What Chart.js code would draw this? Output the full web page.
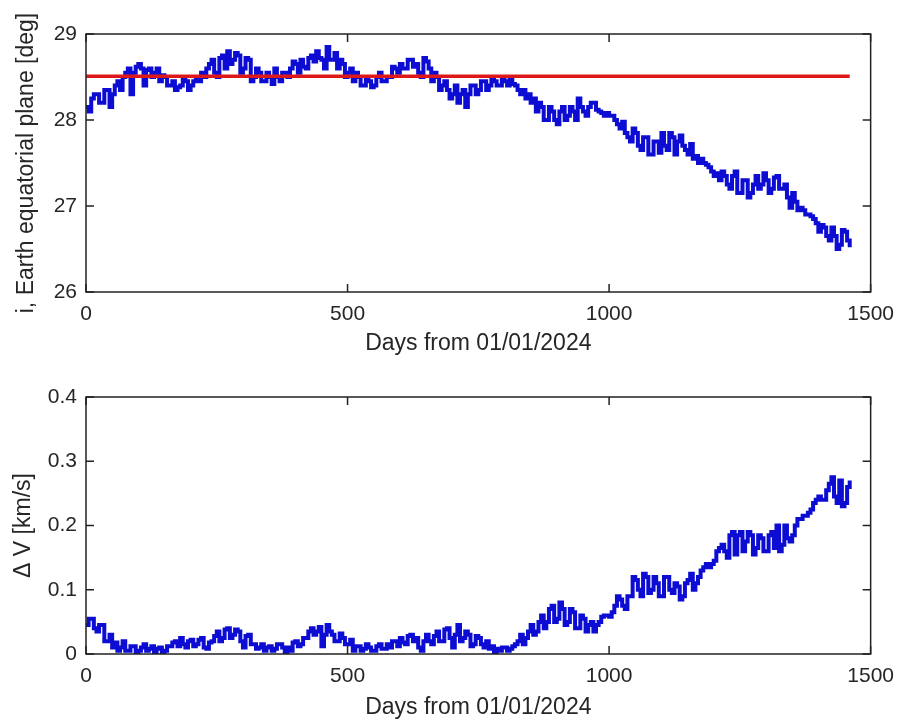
<!DOCTYPE html>
<html><head><meta charset="utf-8">
<script src="https://cdn.jsdelivr.net/npm/chart.js@4.4.1/dist/chart.umd.min.js"></script>
<style>
html,body{margin:0;padding:0;background:#fff;}
#wrap{position:relative;width:904px;height:719px;overflow:hidden;background:#fff;}
.c{position:absolute;left:0;width:904px;}
</style></head><body>
<div id="wrap">
<div class="c" style="top:0;height:360px"><canvas id="c1"></canvas></div>
<div class="c" style="top:360px;height:359px"><canvas id="c2"></canvas></div>
</div>
<script>
// ---- data ----
const DAY_STEP = 5; // samples every 5 days from day 0
const inclination = [
28.15,28.1,28.25,28.3,28.3,28.2,28.2,28.35,28.35,28.15,
28.3,28.4,28.45,28.35,28.5,28.55,28.6,28.3,28.55,28.62,
28.65,28.6,28.4,28.58,28.6,28.5,28.55,28.6,28.45,28.52,
28.5,28.4,28.4,28.45,28.35,28.38,28.4,28.5,28.45,28.35,
28.4,28.45,28.5,28.45,28.55,28.5,28.6,28.65,28.7,28.55,
28.5,28.72,28.75,28.6,28.8,28.65,28.7,28.78,28.75,28.55,
28.6,28.72,28.7,28.45,28.5,28.6,28.55,28.45,28.45,28.55,
28.5,28.42,28.6,28.5,28.45,28.55,28.55,28.5,28.6,28.68,
28.65,28.55,28.7,28.62,28.6,28.72,28.75,28.68,28.8,28.72,
28.7,28.6,28.85,28.7,28.7,28.78,28.6,28.7,28.65,28.5,
28.55,28.6,28.45,28.55,28.5,28.4,28.4,28.5,28.45,28.38,
28.4,28.5,28.55,28.45,28.45,28.5,28.5,28.62,28.6,28.55,
28.65,28.6,28.6,28.7,28.7,28.62,28.65,28.55,28.5,28.72,
28.68,28.6,28.45,28.55,28.5,28.35,28.4,28.45,28.35,28.25,
28.3,28.4,28.2,28.3,28.35,28.15,28.3,28.4,28.4,28.3,
28.35,28.45,28.45,28.35,28.4,28.5,28.45,28.4,28.4,28.48,
28.45,28.4,28.5,28.42,28.4,28.35,28.3,28.35,28.25,28.3,
28.2,28.25,28.1,28.2,28.15,28.0,28.0,28.15,28.1,28.0,
27.95,28.1,28.15,28.0,28.05,28.15,28.1,28.0,28.25,28.15,
28.1,28.05,28.15,28.2,28.2,28.12,28.1,28.08,28.05,28.08,
28.05,28.05,28.0,27.95,27.9,27.98,27.85,27.8,27.75,27.9,
27.85,27.7,27.65,27.8,27.8,27.6,27.6,27.75,27.75,27.62,
27.85,27.7,27.65,27.85,27.8,27.6,27.75,27.82,27.7,27.65,
27.6,27.72,27.55,27.58,27.5,27.55,27.5,27.48,27.45,27.4,
27.35,27.38,27.3,27.4,27.35,27.25,27.2,27.35,27.4,27.15,
27.15,27.3,27.3,27.1,27.15,27.25,27.35,27.2,27.25,27.38,
27.3,27.15,27.2,27.33,27.35,27.2,27.2,27.25,27.1,26.98,
27.15,27.05,26.95,26.98,26.95,26.9,26.9,26.88,26.85,26.8,
26.7,26.78,26.75,26.65,26.6,26.75,26.65,26.5,26.55,26.72,
26.7,26.6,26.52];
const deltaV = [
0.045,0.055,0.055,0.04,0.035,0.045,0.045,0.02,0.02,0.03,
0.01,0.018,0.005,0.01,0.02,0.005,0.005,0.012,0.012,0.003,
0.005,0.01,0.015,0.005,0.008,0.012,0.002,0.008,0.01,0.003,
0.005,0.012,0.012,0.018,0.02,0.012,0.025,0.015,0.01,0.02,
0.022,0.012,0.015,0.022,0.025,0.01,0.008,0.018,0.02,0.028,
0.035,0.02,0.025,0.038,0.04,0.025,0.03,0.038,0.035,0.02,
0.01,0.028,0.03,0.015,0.015,0.008,0.01,0.015,0.005,0.01,
0.012,0.005,0.008,0.015,0.015,0.01,0.002,0.01,0.005,0.018,
0.02,0.012,0.015,0.025,0.025,0.035,0.04,0.03,0.035,0.042,
0.012,0.03,0.045,0.035,0.03,0.02,0.02,0.032,0.025,0.015,
0.015,0.022,0.005,0.012,0.012,0.005,0.008,0.015,0.01,0.005,
0.005,0.012,0.015,0.008,0.008,0.015,0.01,0.02,0.02,0.012,
0.025,0.018,0.015,0.028,0.03,0.02,0.025,0.01,0.005,0.02,
0.03,0.02,0.015,0.028,0.035,0.02,0.02,0.038,0.04,0.025,
0.01,0.03,0.045,0.02,0.025,0.035,0.03,0.012,0.015,0.028,
0.025,0.015,0.01,0.02,0.008,0.012,0.002,0.008,0.005,0.01,
0.01,0.005,0.008,0.012,0.015,0.02,0.03,0.015,0.025,0.035,
0.045,0.03,0.035,0.05,0.06,0.04,0.05,0.07,0.075,0.05,
0.055,0.08,0.07,0.045,0.05,0.07,0.065,0.04,0.04,0.06,
0.055,0.035,0.045,0.05,0.035,0.045,0.05,0.058,0.06,0.06,
0.058,0.065,0.075,0.09,0.085,0.075,0.07,0.09,0.09,0.12,
0.115,0.1,0.09,0.125,0.12,0.095,0.1,0.12,0.11,0.09,
0.09,0.12,0.12,0.1,0.095,0.11,0.105,0.085,0.09,0.11,
0.115,0.125,0.1,0.11,0.12,0.13,0.135,0.14,0.135,0.14,
0.145,0.16,0.165,0.17,0.16,0.15,0.185,0.19,0.155,0.185,
0.19,0.16,0.175,0.19,0.185,0.155,0.165,0.185,0.18,0.16,
0.16,0.185,0.19,0.165,0.2,0.16,0.17,0.2,0.18,0.175,
0.185,0.2,0.21,0.21,0.215,0.215,0.22,0.225,0.235,0.24,
0.245,0.24,0.24,0.255,0.265,0.275,0.245,0.235,0.27,0.23,
0.235,0.26,0.27];
const refDays = [0, 1460];
const refIncl = [28.51, 28.51];
const xTicks = [0, 500, 1000, 1500];
const yTicksTop = [26, 27, 28, 29];
const yTicksBottom = [0, 0.1, 0.2, 0.3, 0.4];

const days = inclination.map((_, i) => i * DAY_STEP);
const toPts = (xs, ys) => xs.map((x, i) => ({x, y: ys[i]}));

const FONT = '"Liberation Sans", Arial, Helvetica, sans-serif';
const TXT = '#262626';
const BLUE = 'rgb(12,12,210)';
const RED = 'rgb(222,24,24)';

const boxTicks = {
  id: 'boxTicks',
  afterDraw(chart, args, opts) {
    const {ctx, chartArea: a, scales} = chart;
    ctx.save();
    ctx.strokeStyle = '#222';
    ctx.lineWidth = 1.5;
    ctx.strokeRect(a.left, a.top, a.right - a.left, a.bottom - a.top);
    const L = 8;
    ctx.beginPath();
    scales.x.ticks.forEach(t => {
      const px = scales.x.getPixelForValue(t.value);
      ctx.moveTo(px, a.bottom); ctx.lineTo(px, a.bottom - L);
      ctx.moveTo(px, a.top); ctx.lineTo(px, a.top + L);
    });
    scales.y.ticks.forEach(t => {
      const py = scales.y.getPixelForValue(t.value);
      ctx.moveTo(a.left, py); ctx.lineTo(a.left + L, py);
      ctx.moveTo(a.right, py); ctx.lineTo(a.right - L, py);
    });
    ctx.stroke();
    // y title (drawn without width limit)
    ctx.fillStyle = TXT;
    ctx.font = '23px ' + FONT;
    ctx.translate(opts.titleX, (a.top + a.bottom) / 2);
    ctx.rotate(-Math.PI / 2);
    ctx.textAlign = 'center';
    ctx.textBaseline = 'middle';
    ctx.fillText(opts.title, 0, 0);
    ctx.restore();
  }
};

const fmt = v => String(+Number(v).toFixed(3));

function makeOpts(c) {
  return {
    responsive: true, maintainAspectRatio: false, animation: false,
    layout: {padding: {top: c.padTop, right: 27, left: 0, bottom: 0}},
    plugins: {legend: {display: false}, tooltip: {enabled: false},
      boxTicks: {title: c.yTitle, titleX: c.yTitleX}},
    scales: {
      x: {type: 'linear', min: 0, max: 1500,
        afterBuildTicks: s => { s.ticks = xTicks.map(v => ({value: v})); },
        ticks: {padding: c.xTickPad, color: TXT, font: {family: FONT, size: 21}, maxRotation: 0, autoSkip: false, callback: fmt},
        grid: {display: false, drawTicks: false}, border: {display: false},
        title: {display: true, text: 'Days from 01/01/2024', color: TXT,
          font: {family: FONT, size: 23, lineHeight: 1}, padding: {top: 0, bottom: c.xTitlePad}},
        afterFit: s => { s.height = c.xH; }},
      y: {type: 'linear', min: c.ymin, max: c.ymax,
        afterBuildTicks: s => { s.ticks = c.yTicks.map(v => ({value: v})); },
        ticks: {padding: 9, color: TXT, font: {family: FONT, size: 21}, callback: fmt},
        grid: {display: false, drawTicks: false}, border: {display: false},
        afterFit: s => { s.width = 86; }}
    }
  };
}

new Chart(document.getElementById('c1'), {
  type: 'line',
  data: {datasets: [
    {data: toPts(refDays, refIncl), borderColor: RED, borderWidth: 3.5, pointRadius: 0, order: 0},
    {data: toPts(days, inclination), borderColor: BLUE, borderWidth: 4, pointRadius: 0, stepped: true, order: 1}
  ]},
  options: makeOpts({padTop: 34, xH: 68, xTickPad: 10, xTitlePad: 5, ymin: 26, ymax: 29, yTicks: yTicksTop,
    yTitle: 'i, Earth equatorial plane [deg]', yTitleX: 27}),
  plugins: [boxTicks]
});

new Chart(document.getElementById('c2'), {
  type: 'line',
  data: {datasets: [
    {data: toPts(days, deltaV), borderColor: BLUE, borderWidth: 4, pointRadius: 0, stepped: true}
  ]},
  options: makeOpts({padTop: 37, xH: 65, xTickPad: 10, xTitlePad: 0, ymin: 0, ymax: 0.4, yTicks: yTicksBottom,
    yTitle: 'Δ V [km/s]', yTitleX: 24}),
  plugins: [boxTicks]
});
</script>
</body></html>
